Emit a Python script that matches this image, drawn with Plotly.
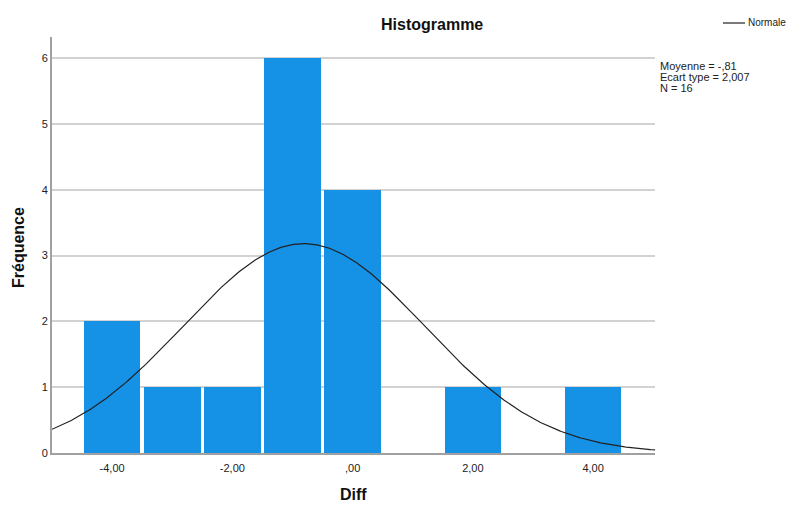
import numpy as np
import plotly.graph_objects as go

bin_centers = [-4, -3, -2, -1, 0, 1, 2, 3, 4]
counts = [2, 1, 1, 6, 4, 0, 1, 0, 1]
mean_val = -0.81
sd_val = 2.007
n_val = 16
bin_width = 1.0
x_tickvals = [-4, -2, 0, 2, 4]
x_ticktext = ["-4,00", "-2,00", ",00", "2,00", "4,00"]
y_tickvals = [0, 1, 2, 3, 4, 5, 6]
stats_lines = ["Moyenne = -,81", "Ecart type = 2,007", "N = 16"]

W, H = 787, 505
L, R, T, B = 52, 132, 37, 52
PW, PH = W - L - R, H - T - B
xr = [-5.0, 5.03]
yr = [0, 6.32]

xc = np.linspace(xr[0], xr[1], 400)
yc = n_val * bin_width / (sd_val * np.sqrt(2 * np.pi)) * np.exp(-0.5 * ((xc - mean_val) / sd_val) ** 2)

FONT = "Liberation Sans, Arial, sans-serif"


def px(x):
    return (x - L) / PW


def py(y):
    return (H - y - B) / PH


fig = go.Figure()
fig.add_trace(go.Bar(
    x=bin_centers, y=counts, width=bin_width * 0.94,
    marker=dict(color="#1591E6", line=dict(color="#1591E6", width=0)),
    showlegend=False, hoverinfo="x+y"))
fig.add_trace(go.Scatter(
    x=xc, y=yc, mode="lines", line=dict(color="#222222", width=1.2),
    showlegend=False, name="Normale"))

annotations = [
    dict(text="<b>Histogramme</b>", xref="paper", yref="paper",
         x=px(432), y=py(24), xanchor="center", yanchor="middle", showarrow=False,
         font=dict(size=16, family=FONT, color="#111111")),
    dict(text="<b>Diff</b>", xref="paper", yref="paper",
         x=px(353), y=py(494), xanchor="center", yanchor="middle", showarrow=False,
         font=dict(size=16, family=FONT, color="#111111")),
    dict(text="<b>Fréquence</b>", xref="paper", yref="paper", textangle=-90,
         x=px(18), y=py(248), xanchor="center", yanchor="middle", showarrow=False,
         font=dict(size=16, family=FONT, color="#111111")),
    dict(text="Normale", xref="paper", yref="paper",
         x=px(746), y=py(23), xanchor="left", yanchor="middle", showarrow=False,
         font=dict(size=10, family=FONT, color="#222222")),
]
for i, s in enumerate(stats_lines):
    annotations.append(dict(text=s, xref="paper", yref="paper",
                            x=px(658), y=py(65.5 + 11.5 * i), xanchor="left", yanchor="middle",
                            showarrow=False, font=dict(size=11, family=FONT, color="#222222")))

fig.update_layout(
    width=W, height=H,
    margin=dict(l=L, r=R, t=T, b=B, autoexpand=False),
    paper_bgcolor="white", plot_bgcolor="white",
    bargap=0,
    font=dict(family=FONT, size=11, color="#222222"),
    xaxis=dict(range=xr, tickvals=x_tickvals, ticktext=x_ticktext, automargin=False,
               showgrid=False, zeroline=False, showline=True, linecolor="#A0A0A0",
               linewidth=2, ticks="outside", ticklen=4, tickcolor="rgba(0,0,0,0)",
               tickfont=dict(size=11, family=FONT, color="#222222")),
    yaxis=dict(range=yr, tickvals=y_tickvals, automargin=False,
               showgrid=True, gridcolor="#D2D2D2", gridwidth=1.5, zeroline=False,
               showline=True, linecolor="#A0A0A0", linewidth=2, ticks="",
               tickfont=dict(size=11, family=FONT, color="#222222")),
    annotations=annotations,
    shapes=[
        dict(type="line", xref="paper", yref="paper",
             x0=px(723), x1=px(745), y0=py(23), y1=py(23),
             line=dict(color="#222222", width=1.2)),
    ],
)

fig.write_html("out.html", config={"displayModeBar": False},
               post_script="document.body.style.margin='0px';document.body.style.padding='0px';document.body.style.overflow='hidden';")
